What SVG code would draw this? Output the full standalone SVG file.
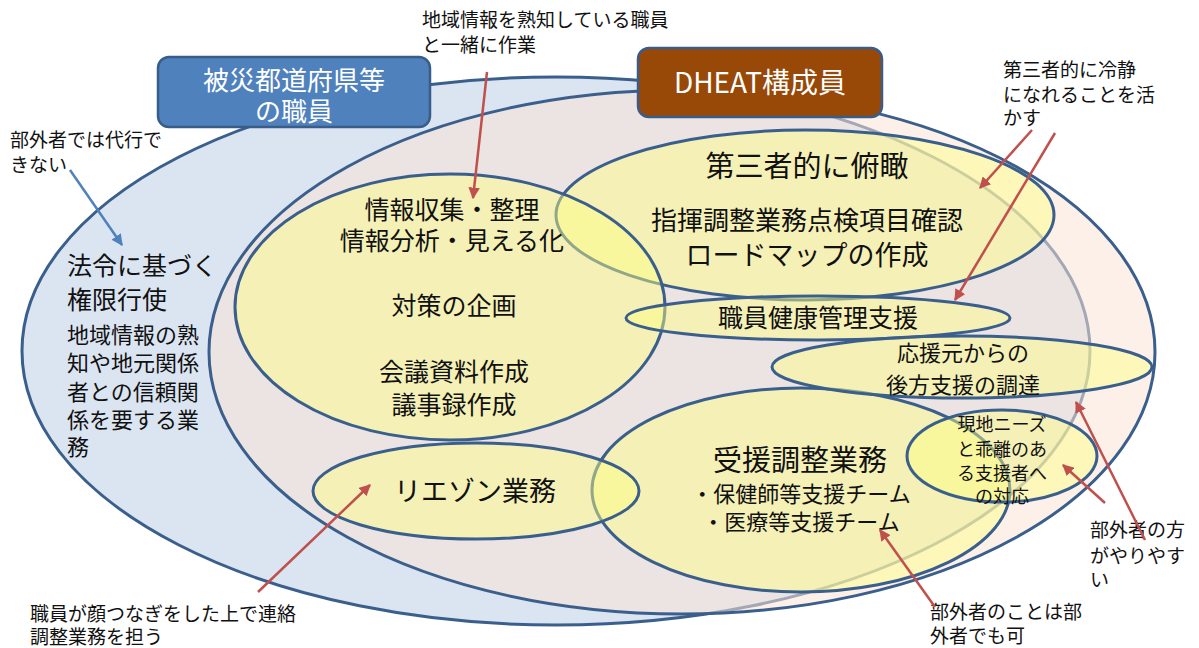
<svg xmlns="http://www.w3.org/2000/svg" width="1199" height="648" viewBox="0 0 1199 648">
<style>
text{font-family:"Noto Sans CJK JP","Noto Sans",sans-serif;fill:#111;}
.e{stroke:#3a5f8c;stroke-width:3;}
.y{fill:#ffff80;fill-opacity:0.45;stroke:#3a5f8c;stroke-width:3;}
.note{font-size:19px;}
.c{text-anchor:middle;}
.w{fill:#fff;}
.ar{stroke:#c0504d;stroke-width:2.5;fill:none;marker-end:url(#ah);}
.ab{stroke:#4f81bd;stroke-width:2.5;fill:none;marker-end:url(#abh);}
</style>
<defs>
<marker id="ah" viewBox="0 0 10 10" refX="9" refY="5" markerWidth="4.6" markerHeight="4.6" orient="auto" markerUnits="strokeWidth"><path d="M0,0 L10,5 L0,10 z" fill="#c0504d"/></marker>
<marker id="abh" viewBox="0 0 10 10" refX="9" refY="5" markerWidth="4.6" markerHeight="4.6" orient="auto" markerUnits="strokeWidth"><path d="M0,0 L10,5 L0,10 z" fill="#4f81bd"/></marker>
</defs>
<rect width="1199" height="648" fill="#fff"/>
<g id="area-pref">
<ellipse cx="556" cy="351" rx="534" ry="274" fill="#dbe5f1" class="e"/>
</g>
<g id="area-dheat">
<ellipse cx="682" cy="352" rx="473" ry="262" fill="rgb(250,228,214)" fill-opacity="0.55" class="e"/>
</g>
<g id="n-fukan"><ellipse cx="805" cy="215" rx="249" ry="85" class="y"/></g>
<g id="n-joho"><ellipse cx="450" cy="307" rx="215" ry="133" class="y"/></g>
<g id="n-kenko"><ellipse cx="818" cy="318" rx="192" ry="22" class="y"/></g>
<g id="n-juen"><ellipse cx="801" cy="490" rx="209" ry="102" class="y"/></g>
<g id="n-koho"><ellipse cx="962" cy="367" rx="190" ry="31" class="y"/></g>
<g id="n-genchi"><ellipse cx="1002" cy="456" rx="95" ry="46" class="y"/></g>
<g id="n-liaison"><ellipse cx="476" cy="491" rx="163" ry="48" class="y"/></g>

<g id="box-pref">
<rect x="158" y="57" width="272" height="70" rx="11" fill="#4f81bd" stroke="#385d8a" stroke-width="2.5"/>
<text class="c w" x="294" y="90" font-size="26">被災都道府県等</text>
<text class="c w" x="294" y="121" font-size="26">の職員</text>
</g>
<g id="box-dheat">
<rect x="638" y="48" width="244" height="69" rx="11" fill="#984807" stroke="#385d8a" stroke-width="2.5"/>
<text class="c w" x="760" y="93" font-size="28">DHEAT構成員</text>
</g>

<g id="labels">
<text x="67" y="275" font-size="25">法令に基づく</text>
<text x="67" y="309" font-size="25">権限行使</text>
<text x="67" y="343" font-size="22">地域情報の熟</text>
<text x="67" y="371" font-size="22">知や地元関係</text>
<text x="67" y="400" font-size="22">者との信頼関</text>
<text x="67" y="428" font-size="22">係を要する業</text>
<text x="67" y="455" font-size="22">務</text>

<text class="c" x="452" y="219" font-size="25">情報収集・整理</text>
<text class="c" x="452" y="250" font-size="25">情報分析・見える化</text>
<text class="c" x="454" y="315" font-size="25">対策の企画</text>
<text class="c" x="454" y="381" font-size="25">会議資料作成</text>
<text class="c" x="454" y="414" font-size="25">議事録作成</text>

<text class="c" x="807" y="177" font-size="29">第三者的に俯瞰</text>
<text class="c" x="807" y="230" font-size="26">指揮調整業務点検項目確認</text>
<text class="c" x="807" y="265" font-size="27">ロードマップの作成</text>

<text class="c" x="818" y="327" font-size="25">職員健康管理支援</text>

<text class="c" x="963" y="361" font-size="22">応援元からの</text>
<text class="c" x="963" y="393" font-size="22">後方支援の調達</text>

<text class="c" x="800" y="471" font-size="29">受援調整業務</text>
<text class="c" x="801" y="502" font-size="22">・保健師等支援チーム</text>
<text class="c" x="801" y="530" font-size="22">・医療等支援チーム</text>

<text class="c" x="1002" y="431" font-size="18">現地ニーズ</text>
<text class="c" x="1002" y="456" font-size="18">と乖離のあ</text>
<text class="c" x="1002" y="480" font-size="18">る支援者へ</text>
<text class="c" x="1002" y="503" font-size="18">の対応</text>

<text class="c" x="475" y="501" font-size="27">リエゾン業務</text>

<text class="note" x="422" y="27">地域情報を熟知している職員</text>
<text class="note" x="422" y="52">と一緒に作業</text>
<text class="note" x="1003" y="77">第三者的に冷静</text>
<text class="note" x="1003" y="102">になれることを活</text>
<text class="note" x="1003" y="125">かす</text>
<text class="note" x="10" y="147">部外者では代行で</text>
<text class="note" x="10" y="172">きない</text>
<text class="note" x="30" y="621">職員が顔つなぎをした上で連絡</text>
<text class="note" x="30" y="644">調整業務を担う</text>
<text class="note" x="930" y="619">部外者のことは部</text>
<text class="note" x="930" y="643">外者でも可</text>
<text class="note" x="1090" y="537">部外者の方</text>
<text class="note" x="1090" y="563">がやりやす</text>
<text class="note" x="1090" y="587">い</text>
</g>

<g id="connectors">
<line class="ar" x1="487" y1="72" x2="473" y2="198"/>
<line class="ar" x1="1032" y1="130" x2="980" y2="188"/>
<line class="ar" x1="1055" y1="133" x2="955" y2="300"/>
<line class="ab" x1="70" y1="170" x2="122" y2="245"/>
<line class="ar" x1="258" y1="592" x2="370" y2="485"/>
<line class="ar" x1="935" y1="607" x2="880" y2="530"/>
<line class="ar" x1="1105" y1="503" x2="1063" y2="465"/>
<line class="ar" x1="1145" y1="540" x2="1076" y2="402"/>
</g>
</svg>
